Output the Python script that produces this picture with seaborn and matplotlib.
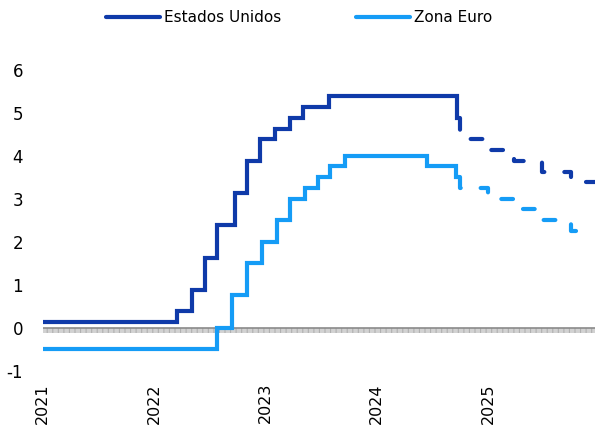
import pandas as pd
import numpy as np
import matplotlib
matplotlib.use('Agg')
import matplotlib.pyplot as plt
from matplotlib.lines import Line2D
import seaborn as sns

sns.set_style('white')
plt.rcParams['font.family'] = ['DejaVu Sans']
plt.rcParams['text.color'] = 'black'
plt.rcParams['xtick.color'] = 'black'
plt.rcParams['ytick.color'] = 'black'
plt.rcParams['hatch.linewidth'] = 0.8

# policy rates, step points (date the new rate takes effect, value)
us_dates = ['2021-01-01', '2022-03-17', '2022-05-05', '2022-06-16', '2022-07-28',
            '2022-09-22', '2022-11-03', '2022-12-15', '2023-02-02', '2023-03-23',
            '2023-05-04', '2023-07-27', '2024-09-19', '2024-09-30']
us_rate = [0.125, 0.375, 0.875, 1.625, 2.375, 3.125, 3.875, 4.375, 4.625, 4.875,
           5.125, 5.375, 4.875, 4.875]

ez_dates = ['2021-01-01', '2022-07-27', '2022-09-14', '2022-11-02', '2022-12-21',
            '2023-02-08', '2023-03-22', '2023-05-10', '2023-06-21', '2023-08-02',
            '2023-09-20', '2024-06-12', '2024-09-18', '2024-09-30']
ez_rate = [-0.5, 0.0, 0.75, 1.5, 2.0, 2.5, 3.0, 3.25, 3.5, 3.75, 4.0, 3.75, 3.5, 3.5]

# market-implied path (dashed)
us_fc_dates = ['2024-09-30', '2024-10-01', '2024-12-17', '2025-03-27', '2025-06-24',
               '2025-09-29', '2025-12-31']
us_fc_rate = [4.875, 4.375, 4.125, 3.875, 3.625, 3.375, 3.375]

ez_fc_dates = ['2024-09-30', '2024-10-01', '2024-12-31', '2025-04-03', '2025-06-17',
               '2025-09-28', '2025-12-31']
ez_fc_rate = [3.5, 3.25, 3.0, 2.75, 2.5, 2.25, 2.25]

years = ['2021', '2022', '2023', '2024', '2025']
y_ticks = [-1, 0, 1, 2, 3, 4, 5, 6]

c_us = '#0f3aa9'
c_ez = '#159cf6'

fig = plt.figure(figsize=(5.95, 4.28), dpi=100)
ax = fig.add_axes([42.5 / 595, 0.1343, 1 - 42.5 / 595, 0.8376 - 0.1343])

# zero line with the grey "ruler" band under it
ax.axhspan(-0.12, 0, facecolor='#d2d2d2', edgecolor='#b0b0b0', hatch='|||', lw=0, zorder=1)
ax.axhline(0, color='#8a8a8a', lw=1.2, zorder=2)

dash = (0, (2.8, 4.8))
series = [
    (us_dates, us_rate, c_us, '-'),
    (ez_dates, ez_rate, c_ez, '-'),
    (us_fc_dates, us_fc_rate, c_us, dash),
    (ez_fc_dates, ez_fc_rate, c_ez, dash),
]
for d, v, col, ls in series:
    df = pd.DataFrame({'fecha': pd.to_datetime(d), 'tasa': v})
    sns.lineplot(data=df, x='fecha', y='tasa', ax=ax, color=col, lw=3,
                 drawstyle='steps-post', estimator=None, sort=False,
                 linestyle=ls, solid_capstyle='butt', dash_capstyle='round',
                 solid_joinstyle='miter', zorder=3)

ax.set_xlim(pd.Timestamp('2021-01-01'), pd.Timestamp('2025-12-16'))
ax.set_ylim(-1, 6)
ax.set_yticks(y_ticks)
ax.set_xticks(pd.to_datetime([y + '-01-01' for y in years]))
ax.set_xticklabels(years, rotation=90, fontsize=11.5)
ax.set_yticklabels([str(t) for t in y_ticks], fontsize=12)
ax.tick_params(axis='y', length=0, pad=14)
ax.tick_params(axis='x', length=0, pad=9)
ax.set_xlabel('')
ax.set_ylabel('')
for s in ax.spines.values():
    s.set_visible(False)
ax.grid(False)

handles = [Line2D([], [], color=c_us, lw=3, solid_capstyle='round'),
           Line2D([], [], color=c_ez, lw=3, solid_capstyle='round')]
fig.legend(handles, ['Estados Unidos', 'Zona Euro'], loc='center',
           bbox_to_anchor=(0.503, 1 - 18 / 428), ncol=2, frameon=False,
           fontsize=11, handlelength=3.5, handletextpad=0.3, columnspacing=4.9)

fig.savefig('out.png', dpi=100)
